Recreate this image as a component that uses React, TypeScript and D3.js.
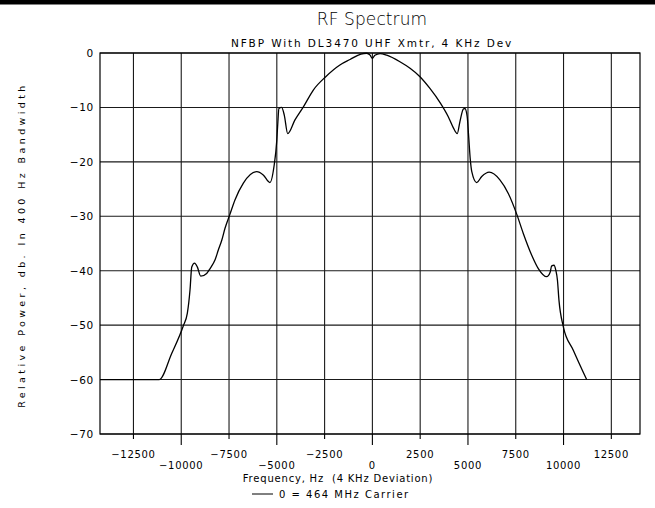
import React from "react";
import * as d3 from "d3";

const freqHz = [
  -14250, -11150, -10500, -9890, -9680, -9540, -9450, -9300, -9160, -8980, -8670, -8490, -8230, -8060, -7880,
  -7710, -7450, -7190, -6750, -6050, -5710, -5360, -5150, -5000, -4950, -4890, -4750, -4610, -4430,
  -4050, -3610, -3090, -2440, -1700, -1170, -600, -300, -120, 0, 130, 400, 750, 1440, 1970, 2490,
  3010, 3540, 3970, 4230, 4440, 4580, 4760, 4840, 4960, 5030, 5120, 5200, 5455, 5720, 6110, 6670,
  7110, 7550, 7890, 8330, 8680, 9120, 9300, 9380, 9500, 9600, 9680, 9760, 9990, 10510, 11210,
];
const powerDb = [
  -60, -60, -55.2, -50.1, -47.8, -43.5, -39.3, -38.6, -39.3, -41, -40.5, -39.6, -38, -36.2, -34.4,
  -32.2, -29.6, -27, -23.9, -21.8, -22.4, -23.8, -20.9, -16, -13, -10.2, -10, -11.4, -14.8,
  -12.3, -9.9, -6.8, -4.35, -2.2, -1.2, -0.2, -0.05, -0.4, -1.0, -0.4, -0.1, -0.4, -1.6, -2.8, -4.35,
  -6.5, -9.1, -11.7, -13.7, -14.8, -12.6, -10.3, -10.2, -11.7, -15, -19.5, -21.8, -23.8, -22.7, -21.9, -23.3,
  -25.8, -29.6, -33.1, -37.1, -39.6, -41.1, -40.3, -39.1, -39, -40, -41.7, -45.4, -50.3, -54.6, -60,
];

const xTicks = [-12500, -10000, -7500, -5000, -2500, 0, 2500, 5000, 7500, 10000, 12500];
const yTicks = [0, -10, -20, -30, -40, -50, -60, -70];

const title = "RF Spectrum";
const subtitle = "NFBP With DL3470 UHF Xmtr, 4 KHz Dev";
const xLabel = "Frequency, Hz\u00a0\u00a0(4 KHz Deviation)";
const yLabel = "Relative Power, db. In 400 Hz Bandwidth";
const legendLabel = "0 = 464 MHz Carrier";

const W = 655;
const H = 508;
const FONT = "'DejaVu Sans', 'Liberation Sans', sans-serif";

const fmt = (v: number) => (v < 0 ? "\u2212" + Math.abs(v) : String(v));

export default function App() {
  const x = d3.scaleLinear().domain([-14250, 14000]).range([100, 640]);
  const y = d3.scaleLinear().domain([-70, 0]).range([434, 53]);
  const pts = freqHz.map((f, i) => [f, powerDb[i]] as [number, number]);
  const line = d3
    .line<[number, number]>()
    .x((d) => x(d[0]))
    .y((d) => y(d[1]))
    .curve(d3.curveMonotoneX);

  const gridColor = "#1a1a1a";
  return (
    <svg
      width={W}
      height={H}
      style={{ position: "absolute", left: 0, top: 0, background: "#fff" }}
      fontFamily={FONT}
    >
      <rect x={0} y={0} width={W} height={H} fill="#fff" />
      <rect x={0} y={0} width={W} height={4.5} fill="#000" />

      {/* grid */}
      {xTicks.map((t) => (
        <line key={"gx" + t} x1={x(t)} x2={x(t)} y1={y(0)} y2={y(-70)} stroke={gridColor} strokeWidth={1.1} />
      ))}
      {yTicks.map((t) => (
        <line key={"gy" + t} x1={x(-14250)} x2={x(14000)} y1={y(t)} y2={y(t)} stroke={gridColor} strokeWidth={1.1} />
      ))}
      {/* frame */}
      <rect
        x={x(-14250)}
        y={y(0)}
        width={x(14000) - x(-14250)}
        height={y(-70) - y(0)}
        fill="none"
        stroke="#000"
        strokeWidth={1.2}
      />

      {/* x ticks */}
      {xTicks.map((t, i) => {
        const upper = i % 2 === 0;
        return (
          <g key={"xt" + t}>
            <line x1={x(t)} x2={x(t)} y1={y(-70)} y2={y(-70) + (upper ? 5 : 11)} stroke="#000" strokeWidth={1.1} />
            <text
              x={x(t)}
              y={upper ? 458 : 469}
              textAnchor="middle"
              fontSize={10}
              letterSpacing={0.7}
              fill="#000"
            >
              {fmt(t)}
            </text>
          </g>
        );
      })}

      {/* y ticks */}
      {yTicks.map((t) => (
        <text key={"yt" + t} x={94} y={y(t) + 4} textAnchor="end" fontSize={10.5} letterSpacing={0.7} fill="#000">
          {fmt(t)}
        </text>
      ))}

      {/* curve */}
      <path d={line(pts) || ""} fill="none" stroke="#000" strokeWidth={1.3} />

      {/* titles */}
      <text x={372} y={25} textAnchor="middle" fontSize={17} fontWeight={300} fill="#000" letterSpacing={0.1}>
        {title}
      </text>
      <text x={372} y={47} textAnchor="middle" fontSize={10.5} fill="#000" letterSpacing={1.9}>
        {subtitle}
      </text>
      <text x={338} y={482} textAnchor="middle" fontSize={10} fill="#000" letterSpacing={0.8}>
        {xLabel}
      </text>
      <text
        transform={`translate(25,${245}) rotate(-90)`}
        textAnchor="middle"
        fontSize={9.5}
        fill="#000"
        letterSpacing={3.4}
      >
        {yLabel}
      </text>

      {/* legend */}
      <line x1={252} x2={273} y1={494} y2={494} stroke="#000" strokeWidth={1} />
      <text x={279} y={498} fontSize={10} fill="#000" letterSpacing={1.5}>
        {legendLabel}
      </text>
    </svg>
  );
}
